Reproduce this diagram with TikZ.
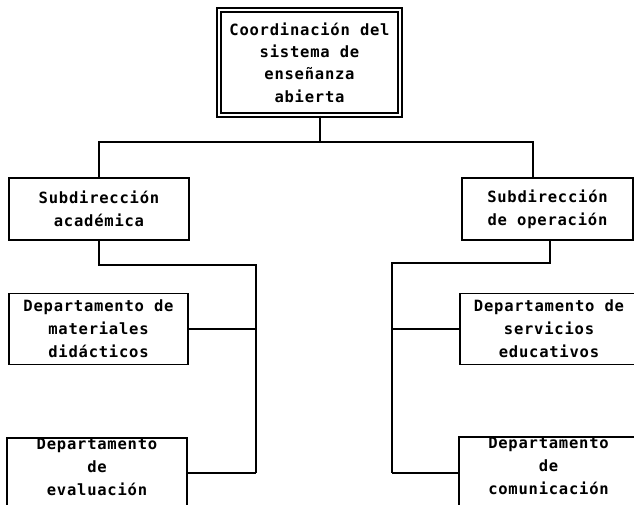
\documentclass[tikz,border=0pt]{standalone}
\usepackage{fontspec}
\newfontfamily\boxfont{DejaVu Sans Mono}[LetterSpace=5]
\begin{document}
\begin{tikzpicture}[x=1pt,y=-1pt,
  every node/.style={inner sep=0pt},
  box/.style={draw, line width=1.7pt, font=\boxfont\bfseries\fontsize{15.5}{23}\selectfont, align=center},
  topbox/.style={box, double, double distance=2.6pt, line width=1.5pt, font=\boxfont\bfseries\fontsize{15.5}{22.4}\selectfont},
  link/.style={line width=1.8pt}]
\useasboundingbox (0,0) rectangle (634,505);
\clip (0,0) rectangle (634,505);
\fill[white] (0,0) rectangle (634,505);

\node[topbox, minimum width=181, minimum height=105] (coord) at (309.5,62.5)
  {Coordinación del\\sistema de\\enseñanza\\abierta};

\node[box, minimum width=180, minimum height=62] (sa) at (99,209) {Subdirección\\académica};
\node[box, minimum width=171, minimum height=62] (so) at (547.5,209) {Subdirección\\de operación};

\node[box, minimum width=179, minimum height=71] (dm) at (98.5,329) {Departamento de\\materiales\\didácticos};
\node[box, minimum width=178, minimum height=71] (ds) at (549,329) {Departamento de\\servicios\\educativos};

\node[box, minimum width=180, anchor=north] (dev) at (97,437) {Departamento\\de\\evaluación\\\mbox{}};
\node[box, minimum width=179, anchor=north] (dco) at (548.5,436) {Departamento\\de\\comunicación\\\mbox{}};

% top level connectors
\coordinate (tj) at (320,142);
\coordinate (tl) at (99,142);
\coordinate (tr) at (533,142);
\draw[link] (coord.south -| tj) -- (tj);
\draw[link] (sa.north) -- (tl) -- (tr) -- (so.north -| tr);

% left branch
\coordinate (lj) at (99,265);
\coordinate (lv) at (256,265);
\coordinate (lb) at (256,473);
\draw[link] (sa.south) -- (lj) -- (lv) -- (lb);
\draw[link] (dm.east) -- (dm.east -| lv);
\draw[link] (dev.east |- lb) -- (lb);

% right branch
\coordinate (rj) at (550,263);
\coordinate (rv) at (392,263);
\coordinate (rb) at (392,473);
\draw[link] (so.south -| rj) -- (rj) -- (rv) -- (rb);
\draw[link] (ds.west) -- (ds.west -| rv);
\draw[link] (dco.west |- rb) -- (rb);
\end{tikzpicture}
\end{document}
